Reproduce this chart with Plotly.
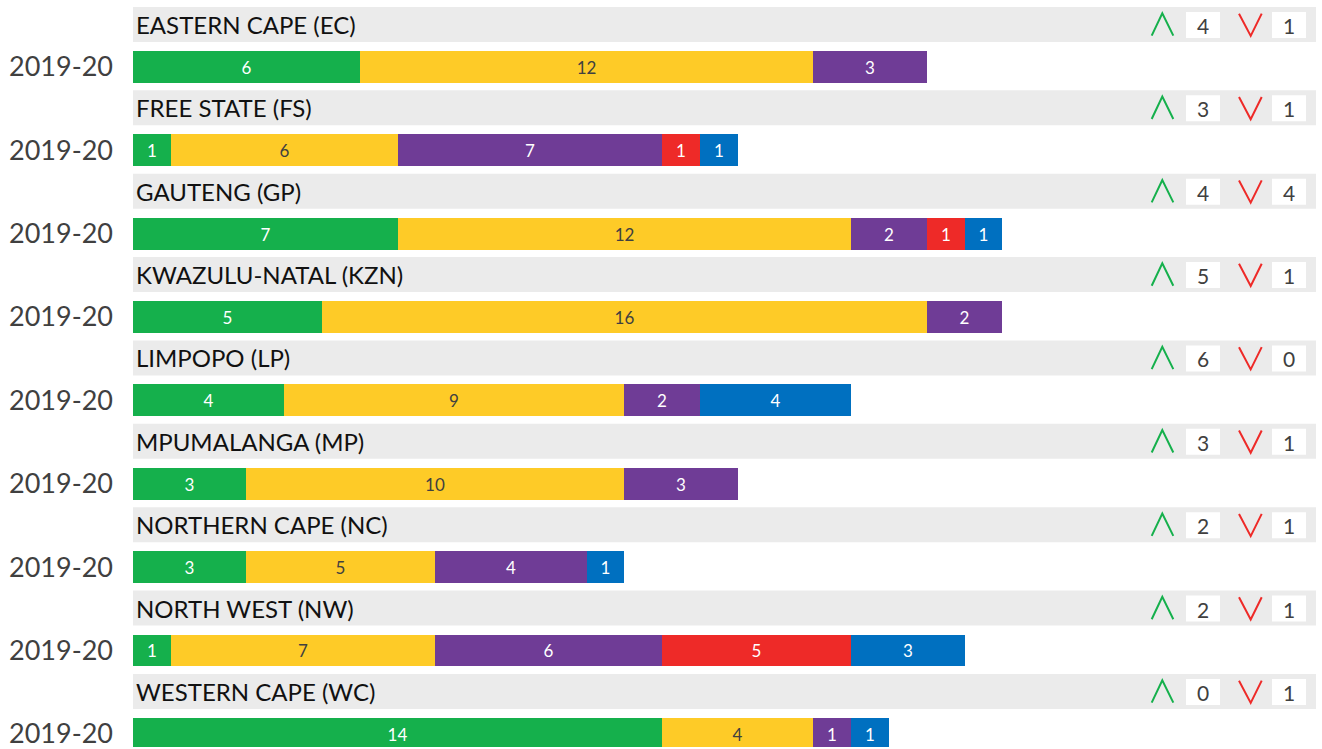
import plotly.graph_objects as go

provinces = ["EASTERN CAPE (EC)", "FREE STATE (FS)", "GAUTENG (GP)", "KWAZULU-NATAL (KZN)",
             "LIMPOPO (LP)", "MPUMALANGA (MP)", "NORTHERN CAPE (NC)", "NORTH WEST (NW)",
             "WESTERN CAPE (WC)"]
periods = ["2019-20"] * 9
green = [6, 1, 7, 5, 4, 3, 3, 1, 14]
yellow = [12, 6, 12, 16, 9, 10, 5, 7, 4]
purple = [3, 7, 2, 2, 2, 3, 4, 6, 1]
red = [0, 1, 1, 0, 0, 0, 0, 5, 0]
blue = [0, 1, 1, 0, 4, 0, 1, 3, 1]
up_counts = [4, 3, 4, 5, 6, 3, 2, 2, 0]
down_counts = [1, 1, 4, 1, 0, 1, 1, 1, 1]

W, H = 1322, 749
ML, MR = 133, 6
PX_PER_UNIT = 37.8
X_MAX = (W - ML - MR) / PX_PER_UNIT
PITCH = 83.6
FONT = "Lato, 'Open Sans', sans-serif"


def px(xp):
    return (xp - ML) / PX_PER_UNIT


header_c = [24.5 + PITCH * i for i in range(len(provinces))]
bar_c = [67 + PITCH * i for i in range(len(provinces))]

series = [
    (green, "#15B04C", "white"),
    (yellow, "#FECB27", "#404040"),
    (purple, "#6F3C96", "white"),
    (red, "#EE2A28", "white"),
    (blue, "#0070C0", "white"),
]

fig = go.Figure()
for vals, col, tcol in series:
    fig.add_trace(go.Bar(
        x=vals, y=bar_c, orientation="h", width=32,
        marker=dict(color=col, line=dict(width=0)),
        text=[str(v) if v else "" for v in vals],
        textposition="inside", insidetextanchor="middle", textangle=0,
        constraintext="none",
        textfont=dict(family=FONT, size=17, color=tcol),
        hoverinfo="skip", showlegend=False,
    ))

shapes = []
annotations = []
for i, name in enumerate(provinces):
    hc = header_c[i]
    shapes.append(dict(type="rect", xref="x", yref="y", x0=0, x1=X_MAX,
                       y0=hc - 17.5, y1=hc + 17.5, fillcolor="#EBEBEB",
                       line=dict(width=0), layer="below"))
    for bx0, bx1 in [(1186, 1220), (1272, 1306)]:
        shapes.append(dict(type="rect", xref="x", yref="y", x0=px(bx0), x1=px(bx1),
                           y0=hc - 12.5, y1=hc + 13.5, fillcolor="white",
                           line=dict(width=0)))
    shapes.append(dict(type="path", xref="x", yref="y",
                       path=f"M {px(1151.7)} {hc + 11.2} L {px(1162.3)} {hc - 11.2} L {px(1173.3)} {hc + 11.2}",
                       line=dict(color="#15B04C", width=2)))
    shapes.append(dict(type="path", xref="x", yref="y",
                       path=f"M {px(1239)} {hc - 10.8} L {px(1250.7)} {hc + 11.5} L {px(1261.7)} {hc - 10.8}",
                       line=dict(color="#EE2A28", width=2)))
    annotations.append(dict(x=0, y=hc, xref="x", yref="y", text=name, showarrow=False,
                            xanchor="left", yanchor="middle", xshift=1,
                            font=dict(family=FONT, size=24, color="#111111")))
    annotations.append(dict(x=px(1203), y=hc + 1, xref="x", yref="y", text=str(up_counts[i]),
                            showarrow=False, xanchor="center", yanchor="middle",
                            font=dict(family=FONT, size=21, color="#404040")))
    annotations.append(dict(x=px(1289), y=hc + 1, xref="x", yref="y", text=str(down_counts[i]),
                            showarrow=False, xanchor="center", yanchor="middle",
                            font=dict(family=FONT, size=21, color="#404040")))

fig.update_layout(
    width=W, height=H, barmode="stack", bargap=0,
    margin=dict(l=ML, r=MR, t=0, b=0, pad=0),
    plot_bgcolor="white", paper_bgcolor="white",
    shapes=shapes, annotations=annotations,
    xaxis=dict(range=[0, X_MAX], showgrid=False, zeroline=False, showticklabels=False,
               showline=False, fixedrange=True),
    yaxis=dict(range=[H, 0], showgrid=False, zeroline=False, showline=False,
               tickvals=bar_c, ticktext=periods, ticks="", ticklabelstandoff=19,
               ticklabeloverflow="allow",
               tickfont=dict(family=FONT, size=27, color="#404040"), fixedrange=True),
)

fig.write_html("out.html", config={"displayModeBar": False},
               post_script="document.body.style.margin='0';document.body.style.overflow='hidden';")
